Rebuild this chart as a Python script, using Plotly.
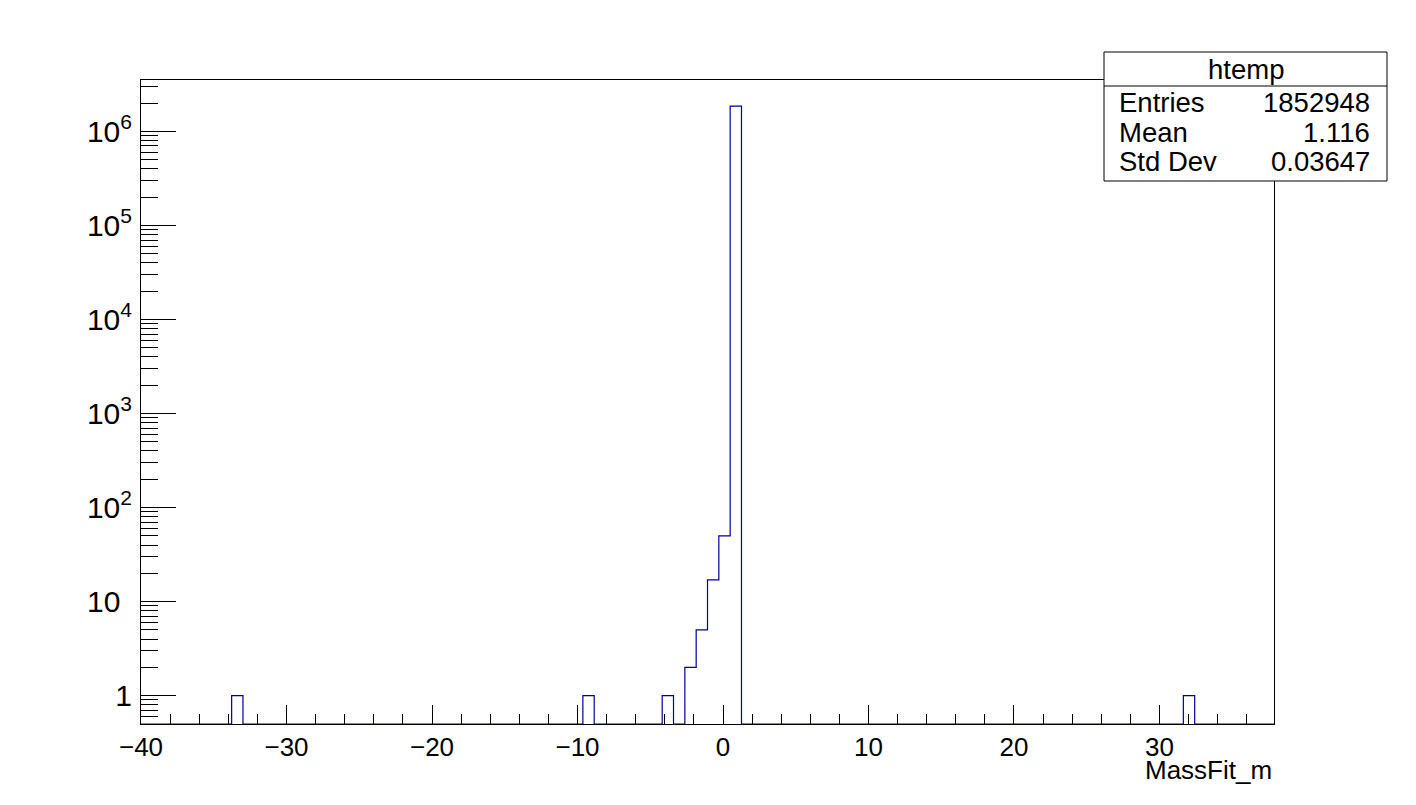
import math
import plotly.graph_objects as go

# ---- data ----
x_min = -40.0
x_max = 37.87
n_bins = 100
bin_index = [8, 39, 46, 48, 49, 50, 51, 52, 92]
bin_count = [1, 1, 1, 2, 5, 17, 50, 1852870, 1]

hist_name = "htemp"
stat_labels = ["Entries", "Mean", "Std Dev"]
stat_values = ["1852948", "1.116", "0.03647"]
x_title = "MassFit_m"

y_tick_vals = [1, 10, 1e2, 1e3, 1e4, 1e5, 1e6]
y_tick_text = ["1", "10<sup>\u00a0\u00a0</sup>", "10<sup>2</sup>", "10<sup>3</sup>", "10<sup>4</sup>",
               "10<sup>5</sup>", "10<sup>6</sup>"]
y_min = 0.5
y_max = 3.52e6

# ---- build histogram outline ----
width = (x_max - x_min) / n_bins
edges = [x_min + i * width for i in range(n_bins + 1)]
counts = [0] * n_bins
for i, c in zip(bin_index, bin_count):
    counts[i] = c
plot_counts = [c if c > 0 else y_min for c in counts]
xs = edges
ys = plot_counts + [plot_counts[-1]]

minor_vals = []
for k in range(-1, 7):
    for m in range(2, 10):
        v = m * 10 ** k
        if y_min < v < y_max:
            minor_vals.append(v)

FONT = "Liberation Sans, Arial, Helvetica, sans-serif"
FS = 26
FS_Y = 30
FS_STAT = 27.5

fig = go.Figure()
fig.add_trace(go.Scatter(x=xs, y=ys, mode="lines", line=dict(color="#000099", width=1.2, shape="hv"),
                         hoverinfo="skip", showlegend=False))

# page body has an 8px margin; compensate so the plot lands where the reference has it
OFF = 8
W, H = 1416 - OFF, 805 - OFF
PL, PR, PT, PB = 141, 1274, 80, 724          # target plot-area pixels in the window
L, T = PL - OFF, PT - OFF
PW, PH = PR - PL, PB - PT
R = W - L - PW
B = H - T - PH

def px(xp):
    return (xp - PL) / PW

def py(yp):
    return (PB - yp) / PH

fig.update_layout(
    width=W, height=H,
    margin=dict(l=L, r=R, t=T, b=B, pad=0),
    paper_bgcolor="white", plot_bgcolor="white",
    font=dict(family=FONT, size=FS, color="black"),
    showlegend=False,
)
fig.update_xaxes(
    range=[x_min, x_max], showgrid=False, zeroline=False,
    showline=True, linecolor="black", linewidth=1, mirror=True,
    ticks="inside", ticklen=19, tickcolor="black", tickwidth=1,
    tickmode="linear", tick0=0, dtick=10,
    tickfont=dict(family=FONT, size=FS, color="black"),
    minor=dict(ticks="inside", ticklen=10, tickcolor="black", tickwidth=1, dtick=2, tick0=0, showgrid=False),
)
fig.update_yaxes(
    type="log", range=[math.log10(y_min), math.log10(y_max)],
    showgrid=False, zeroline=False,
    showline=True, linecolor="black", linewidth=1, mirror=True,
    ticks="inside", ticklen=35, tickcolor="black", tickwidth=1,
    tickmode="array", tickvals=y_tick_vals, ticktext=y_tick_text,
    ticklabelstandoff=2,
    tickfont=dict(family=FONT, size=FS_Y, color="black"),
    minor=dict(ticks="inside", ticklen=17, tickcolor="black", tickwidth=1,
               tickmode="array", tickvals=minor_vals, showgrid=False),
)

# stats box
bx0, bx1, by0, by1, bsep = 1104, 1387, 52, 181, 86
fig.add_shape(type="rect", xref="paper", yref="paper", x0=px(bx0), x1=px(bx1), y0=py(by1), y1=py(by0),
              line=dict(color="black", width=1), fillcolor="white", layer="above")
fig.add_shape(type="line", xref="paper", yref="paper", x0=px(bx0), x1=px(bx1), y0=py(bsep), y1=py(bsep),
              line=dict(color="black", width=1), layer="above")
fig.add_annotation(xref="paper", yref="paper", x=px((bx0 + bx1) / 2), y=py(69), text=hist_name,
                   showarrow=False, xanchor="center", yanchor="middle", font=dict(family=FONT, size=FS_STAT))
row_y = [103, 132, 161]
for lab, val, yy in zip(stat_labels, stat_values, row_y):
    fig.add_annotation(xref="paper", yref="paper", x=px(1117), y=py(yy), text=lab, showarrow=False,
                       xanchor="left", yanchor="middle", font=dict(family=FONT, size=FS_STAT))
    fig.add_annotation(xref="paper", yref="paper", x=px(1372), y=py(yy), text=val, showarrow=False,
                       xanchor="right", yanchor="middle", font=dict(family=FONT, size=FS_STAT))

fig.add_annotation(xref="paper", yref="paper", x=1.0, y=py(770), text=x_title, showarrow=False,
                   xanchor="right", yanchor="middle", font=dict(family=FONT, size=FS))

fig.write_html("out.html")
